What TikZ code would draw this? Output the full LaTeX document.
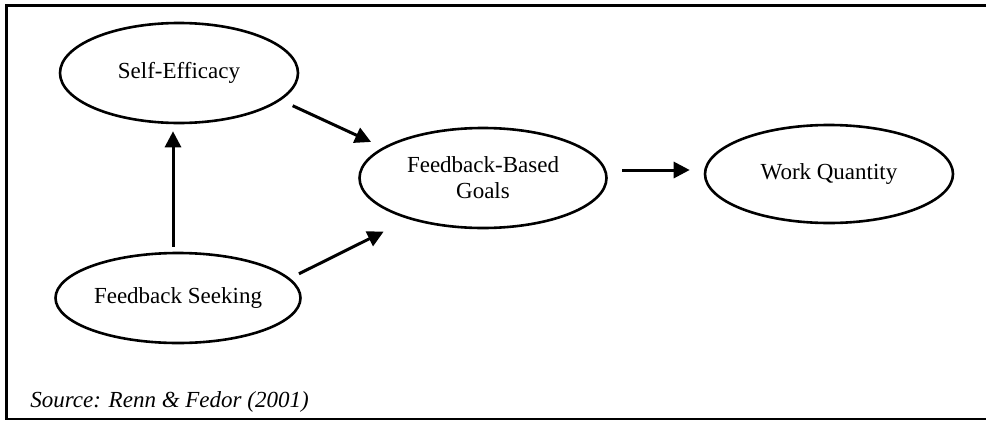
\documentclass[tikz,border=0pt]{standalone}
\usepackage{fontspec}
\setmainfont{Liberation Serif}
\usetikzlibrary{arrows.meta,shapes.geometric}

\begin{document}
\begin{tikzpicture}[x=0.5pt,y=-0.5pt,
        var/.style={draw,ellipse,line width=1.3pt,inner sep=0pt,align=center,
            font=\fontsize{11.5}{13}\selectfont},
        arr/.style={-{Triangle[length=8pt,width=8pt]},line width=1.5pt}]
        \useasboundingbox (0,0) rectangle (989,423);
        % frame
        \draw[line width=1.5pt] (986,5) -- (6,5) -- (6,420);
        \draw[line width=1pt] (6,419) -- (986,419);
        % variables
        \node[var,minimum width=119pt,minimum height=50pt] (se) at (179,73) {Self-Efficacy};
        \node[var,minimum width=122.5pt,minimum height=45pt] (fs) at (178,298) {Feedback Seeking};
        \node[var,minimum width=123.5pt,minimum height=50pt] (fbg) at (483,178) {Feedback-Based\\Goals};
        \node[var,minimum width=124pt,minimum height=49pt] (wq) at (829,174) {Work Quantity};
        % paths
        \draw[arr,shorten <=2.5pt,shorten >=3.5pt] ([xshift=-2.5pt]fs.north) -- ([xshift=-3pt]se.south);
        \draw[arr,shorten <=6.5pt,shorten >=6.5pt] (se.-15) -- (fbg.163);
        \draw[arr,shorten <=5pt,shorten >=14pt] (fs.10) -- (fbg.209);
        \draw[arr,shorten <=7.25pt,shorten >=7pt] ([yshift=4pt]fbg.east) -- ([yshift=2pt]wq.west);
        % source
        \node[anchor=base west,inner sep=0pt,font=\fontsize{11.5}{13}\selectfont\itshape] (src) at (30,407) {Source: Renn \& Fedor (2001)};
\end{tikzpicture}
\end{document}
